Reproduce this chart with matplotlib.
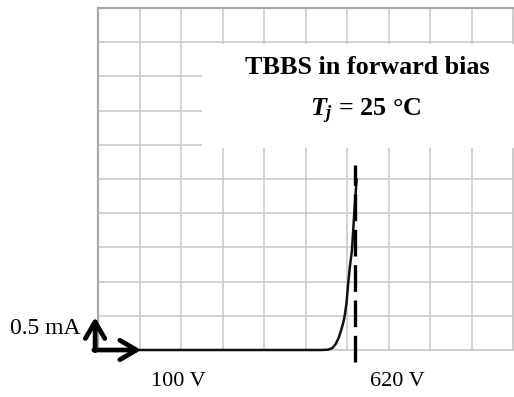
import numpy as np
import matplotlib
matplotlib.use("Agg")
import matplotlib.pyplot as plt
from matplotlib.patches import Rectangle

plt.rcParams['font.family'] = ['Liberation Serif', 'DejaVu Serif']
plt.rcParams['mathtext.fontset'] = 'custom'
plt.rcParams['mathtext.rm'] = 'Liberation Serif:bold'
plt.rcParams['mathtext.it'] = 'Liberation Serif:bold:italic'

# forward-bias I-V trace (volts, mA), 100 V/div and 0.5 mA/div
volts = [100, 300, 540, 555, 565, 573, 580, 586, 591, 595, 599, 603,
         607, 612, 617, 623]
current = [0, 0, 0, 0.005, 0.03, 0.09, 0.18, 0.29, 0.40, 0.52, 0.70,
           0.98, 1.22, 1.46, 1.95, 2.49]

breakdown_v = 620
x_div, y_div = 100, 0.5
n_div = 10

fig = plt.figure(figsize=(5.14, 3.97), dpi=100)
ax = fig.add_axes([98 / 514, 47 / 397, 415 / 514, 342 / 397])
ax.set_xlim(0, n_div * x_div)
ax.set_ylim(0, n_div * y_div)
ax.set_xticks(np.arange(0, n_div * x_div + 1, x_div))
ax.set_yticks(np.arange(0, n_div * y_div + 0.01, y_div))
ax.tick_params(length=0, labelbottom=False, labelleft=False)
ax.grid(True, color='#c6c6c6', lw=1.1)
ax.set_axisbelow(True)
for side in ['top', 'left']:
    ax.spines[side].set_color('#a8a8a8')
    ax.spines[side].set_linewidth(1.6)
for side in ['bottom', 'right']:
    ax.spines[side].set_color('#c6c6c6')
    ax.spines[side].set_linewidth(1.1)

# white label box over the grid
fig.patches.append(Rectangle((202 / 514, 1 - 148 / 397), 1, 104 / 397,
                             transform=fig.transFigure, facecolor='white',
                             edgecolor='none', zorder=1))

ax.plot(volts, current, color='#111111', lw=1.8, zorder=3, clip_on=False,
        solid_joinstyle='round')
ax.plot([breakdown_v, breakdown_v], [-0.18, 2.7], color='black', lw=2.4,
        dashes=(8, 2.6), zorder=4, clip_on=False)

# axis arrows at origin
arrow = dict(arrowstyle='->,head_length=0.6,head_width=0.35', lw=3.4,
             color='black', mutation_scale=20, shrinkA=0, shrinkB=0)
ax.annotate('', xy=(-7, 0.48), xytext=(-7, -0.01), arrowprops=arrow,
            annotation_clip=False)
ax.annotate('', xy=(104, 0), xytext=(-10, 0), arrowprops=arrow,
            annotation_clip=False)

fig.text(367 / 514, 1 - 67 / 397, 'TBBS in forward bias', ha='center',
         va='center', fontsize=18.8, fontweight='bold', zorder=5)
fig.text(366 / 514, 1 - 111 / 397, r'$T_j$ = 25 °C', ha='center',
         va='center', fontsize=18.8, fontweight='bold', zorder=5)
fig.text(81 / 514, 1 - 328 / 397, '0.5 mA', ha='right', va='center',
         fontsize=17)
fig.text(178 / 514, 1 - 382 / 397, '100 V', ha='center', va='center',
         fontsize=16)
fig.text(397 / 514, 1 - 382 / 397, '620 V', ha='center', va='center',
         fontsize=16)

fig.savefig('out.png', dpi=100)
